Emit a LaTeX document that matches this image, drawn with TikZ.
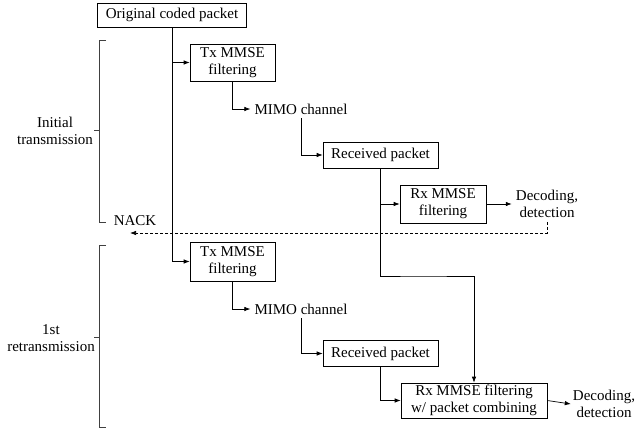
\documentclass[tikz,border=0pt]{standalone}
\usepackage{fontspec}
\setmainfont{Liberation Serif}
\usetikzlibrary{arrows.meta}
\begin{document}
\begin{tikzpicture}[x=1pt,y=-1pt]

\tikzset{mybox/.style={draw=black, line width=0.7pt, align=center, inner sep=1pt, font=\fontsize{15}{17}\selectfont}}
\tikzset{mytext/.style={align=center, inner sep=4pt, font=\fontsize{15}{17}\selectfont}}
\tikzset{myarrow/.style={-{Latex[length=6pt,width=4.5pt]}, line width=0.7pt}}
\tikzset{mybracket/.style={line width=0.7pt, draw=black!75}}

\useasboundingbox (0,0) rectangle (636,434);

% initial transmission
\node[mybox, minimum width=149pt, minimum height=24pt] (orig) at (172,15) {Original coded packet};
\node[mybox, minimum width=85pt, minimum height=37pt] (tx1) at (232.5,62.5) {Tx MMSE\\filtering};
\node[mytext] (mimo1) at (301,109) {MIMO channel};
\node[mybox, minimum width=115pt, minimum height=26pt] (rxpkt1) at (380.5,155) {Received packet};
\node[mybox, minimum width=86pt, minimum height=38pt] (rxf1) at (443,204) {Rx MMSE\\filtering};
\node[mytext] (dec1) at (547,204) {Decoding,\\detection};

\node[mytext] (nack) at (135,221) {NACK};
\coordinate (nacktip) at (130,233);

% 1st retransmission
\node[mybox, minimum width=85pt, minimum height=39pt] (tx2) at (232.5,261.5) {Tx MMSE\\filtering};
\node[mytext] (mimo2) at (301,309) {MIMO channel};
\node[mybox, minimum width=115pt, minimum height=26pt] (rxpkt2) at (380.5,353.5) {Received packet};
\node[mybox, minimum width=146pt, minimum height=35pt] (rxc) at (474,400.5) {Rx MMSE filtering\\w/ packet combining};
\node[mytext, inner sep=2pt] (dec2) at (604,404) {Decoding,\\detection};

\draw[myarrow] (orig.south) |- (tx1.west);
\draw[myarrow] (orig.south) |- (tx2.west);
\draw[myarrow] (tx1.south) |- (mimo1.west);
\draw[myarrow] (mimo1.south) |- (rxpkt1.west);
\draw[myarrow] (rxpkt1.south) |- (rxf1.west);
\draw[myarrow] (rxf1.east) -- (dec1.west);
\draw[myarrow, dash pattern=on 3pt off 2pt] (dec1.south) |- (nacktip);

\coordinate (bend) at (420,276);
\draw[myarrow] (rxpkt1.south) |- (bend) -| (rxc.north);

\draw[myarrow] (tx2.south) |- (mimo2.west);
\draw[myarrow] (mimo2.south) |- (rxpkt2.west);
\draw[myarrow] (rxpkt2.south) |- (rxc.west);
\draw[myarrow] (rxc.east) -- (dec2.west);

% brackets
\draw[mybracket] (106,40) -- (99,40) -- (99,222) -- (106,222);
\draw[mybracket] (99,130) -- (94,130);
\node[mytext] (init) at (55,131) {Initial\\transmission};

\draw[mybracket] (106,245) -- (99,245) -- (99,427) -- (106,427);
\draw[mybracket] (99,337) -- (94,337);
\node[mytext] (retx) at (51,338) {1st\\retransmission};

\end{tikzpicture}
\end{document}
